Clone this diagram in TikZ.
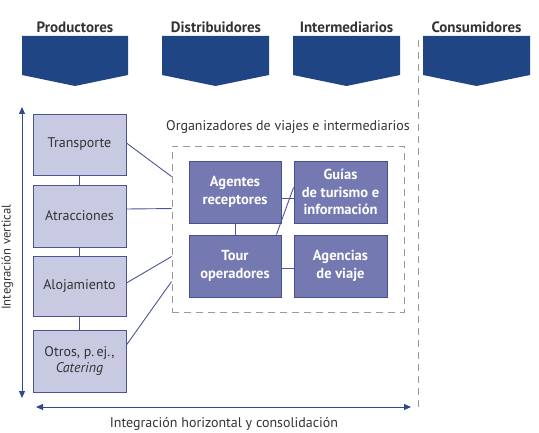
\documentclass[tikz,border=0pt]{standalone}
\usepackage{fontspec}
\setmainfont{PT Sans}
\usetikzlibrary{arrows.meta,calc}
\definecolor{hdr}{HTML}{1F4585}
\definecolor{lbox}{HTML}{C8CAE2}
\definecolor{lbord}{HTML}{4C5496}
\definecolor{ibox}{HTML}{7479B1}
\definecolor{ibord}{HTML}{4A508E}
\definecolor{txt}{HTML}{333333}
\definecolor{dgrey}{HTML}{9A9A9A}
\definecolor{arr}{HTML}{2E4C8C}
\tikzset{
  hdrtext/.style={font=\fontsize{15}{17}\selectfont\bfseries, text=txt},
  leftbox/.style={draw=lbord, fill=lbox, line width=0.9pt, minimum width=93pt, minimum height=61pt, inner sep=2pt, align=center, text=txt, font=\fontsize{14}{16}\selectfont},
  innerbox/.style={draw=ibord, fill=ibox, line width=0.9pt, minimum width=92pt, minimum height=62pt, inner sep=2pt, align=center, text=white, font=\fontsize{14.5}{17.5}\selectfont\bfseries},
  conn/.style={draw=lbord, line width=0.9pt},
  dashbox/.style={draw=dgrey, line width=0.9pt, dash pattern=on 7pt off 5pt},
  chev/.style={fill=hdr},
  bigarrow/.style={draw=arr, line width=0.9pt, {Triangle[length=7pt,width=6pt]}-{Triangle[length=7pt,width=6pt]}},
  lbl/.style={text=txt, font=\fontsize{14}{16}\selectfont}
}
\begin{document}
\begin{tikzpicture}[x=1pt,y=-1pt]
\useasboundingbox (0,0) rectangle (539,433);
% header chevrons
\foreach \a/\b in {22/128,162/269,293/400,423/530}{
  \fill[chev] (\a,36) -- (\b,36) -- (\b,75) -- ({(\a+\b)/2},86) -- (\a,75) -- cycle;
}
\node[hdrtext] (hp) at (75,27) {Productores};
\node[hdrtext] (hd) at (216,27) {Distribuidores};
\node[hdrtext] (hi) at (346.5,27) {Intermediarios};
\node[hdrtext] (hc) at (476.5,27) {Consumidores};
% vertical dashed separator
\coordinate (septop) at (418,40);
\coordinate (sepbot) at (418,411);
\draw[dashbox] (septop) -- (sepbot);
% dashed organizers box
\node[dashbox, minimum width=232pt, minimum height=166pt, inner sep=0pt] (org) at (288,229) {};
\node[lbl] (orgt) at (288,127) {Organizadores de viajes e intermediarios};
% left boxes
\node[leftbox] (tra) at (79.5,144.5) {Transporte};
\node[leftbox, minimum height=62pt] (atr) at (79.5,216) {Atracciones};
\node[leftbox, minimum height=60pt] (alo) at (79.5,286) {Alojamiento};
\node[leftbox, minimum height=62pt] (otr) at (79.5,361) {Otros, p.\,ej.,\\\textit{Catering}};
\draw[conn] (tra) -- (atr);
\draw[conn] (atr) -- (alo);
\draw[conn] (alo) -- (otr);
% inner boxes
\node[innerbox] (age) at (235,192) {Agentes\\receptores};
\node[innerbox, minimum width=93pt] (gui) at (340.5,192) {Guías\\de turismo e\\información};
\node[innerbox] (tou) at (235,266) {Tour\\operadores};
\node[innerbox, minimum width=93pt] (agv) at (340.5,266) {Agencias\\de viaje};
\draw[conn] ([yshift=-6pt]age.east) -- ([yshift=-6pt]gui.west);
\draw[conn] (age) -- (tou);
\draw[conn] ([xshift=-5pt]tou.north east) -- ([yshift=-27pt]gui.north west);
\draw[conn] ([yshift=-2pt]tou.east) -- ([yshift=-2pt]agv.west);
% connectors left boxes to organizers box
\draw[conn] ([yshift=1.5pt]tra.east) -- ([yshift=-31pt]org.north west);
\draw[conn] ([yshift=7pt]atr.east) -- ([yshift=-63pt]org.north west);
\draw[conn] ([yshift=3pt]alo.east) -- ([yshift=-111pt]org.north west);
\draw[conn] ([yshift=16pt]otr.east) -- ([yshift=-136pt]org.north west);
% integration arrows
\coordinate (vt) at (22,107);
\coordinate (vb) at (22,398);
\draw[bigarrow] (vt) -- (vb);
\node[lbl, font=\fontsize{12.7}{14}\selectfont, rotate=90, anchor=base] (vlab) at (10.5,257) {Integración vertical};
\coordinate (hl) at (36,407);
\coordinate (hr) at (411,407);
\draw[bigarrow] (hl) -- (hr);
\node[lbl] (hlab) at (224,424) {Integración horizontal y consolidación};
\end{tikzpicture}
\end{document}
